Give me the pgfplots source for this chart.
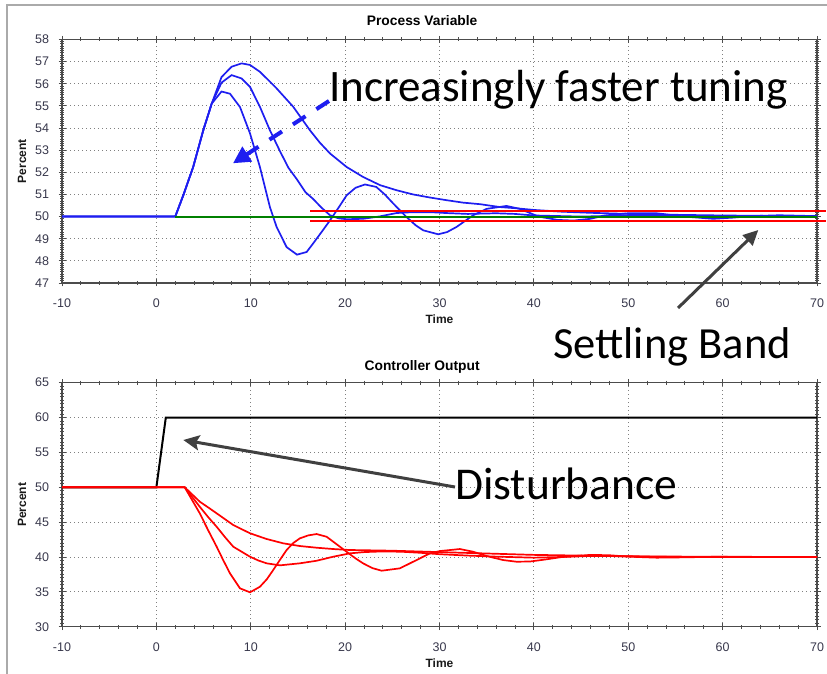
\documentclass[border=0pt]{standalone}
\usepackage{pgfplots}
\pgfplotsset{compat=1.18}
\usepackage{fontspec}
\setmainfont{Liberation Sans}
\newfontfamily\calibri{Carlito}
\usetikzlibrary{arrows.meta}
\definecolor{labelc}{RGB}{55,55,75}
\definecolor{pvblue}{RGB}{30,30,240}
\definecolor{framec}{RGB}{170,170,170}
\definecolor{annc}{RGB}{64,64,64}
\definecolor{spgreen}{RGB}{0,128,0}

\pgfplotsset{
  pidstyle/.style={
    scale only axis, width=755bp,
    xmin=-10, xmax=70, xtick={-10,0,...,70}, minor x tick num=4,
    minor y tick num=9,
    tick align=center,
    major tick length=7bp, minor tick length=4bp,
    grid=major,
    major grid style={line width=0.9bp, dash pattern=on 1bp off 3bp, color=black!50},
    axis line style={line width=1.6bp, color=black!70},
    every tick/.style={line width=0.9bp, color=black!70},
    tick label style={font=\fontsize{12.5bp}{14bp}\selectfont, color=labelc},
    /pgf/number format/assume math mode=true,
    xticklabel style={anchor=center, yshift=-17bp},
    yticklabel style={anchor=east, xshift=-6bp},
    xlabel={Time}, ylabel={Percent},
    label style={font=\fontsize{12bp}{14bp}\selectfont\bfseries, color=black!90},
    title style={font=\fontsize{13.8bp}{15bp}\selectfont\bfseries, anchor=center},
    ylabel style={at={(axis description cs:-0.053,0.5)}, anchor=center},
    clip=false,
  }
}

\begin{document}
\begin{tikzpicture}[x=1bp,y=1bp]
\path[use as bounding box] (0,0) rectangle (827,674);
\draw[framec, line width=2bp] (6.5,0) -- (6.5,669) -- (830,669);

% ---------------- Process Variable ----------------
\begin{axis}[pidstyle, at={(62bp,391bp)}, anchor=south west, height=243.5bp,
  ymin=47, ymax=58, ytick={47,48,...,58},
  title={Process Variable}, title style={at={(0.477,1.080)}, anchor=center, yshift=-6.5bp},
  xlabel style={at={(axis description cs:0.5,-0.148)}, anchor=center}]
% slow
\addplot[pvblue, line width=1.7bp] coordinates {
(-10,50) (2,50) (2.85,50.96) (3.9,52.24) (4.97,53.9) (5.86,55.1) (6.9,56.3) (7.97,56.77)
(9.03,56.92) (9.92,56.85) (10.97,56.54) (11.9,56.15) (12.74,55.79) (14.5,54.96) (16.27,53.9)
(17.3,53.35) (18.4,52.85) (20.16,52.24) (21.9,51.79) (23.7,51.42) (25.45,51.19) (27.2,51.0)
(29,50.86) (30.75,50.74) (32.5,50.63) (34.3,50.56) (36.4,50.43) (38,50.38) (40,50.3)
(43,50.22) (46,50.17) (50,50.12) (55,50.08) (60,50.05) (65,50.03) (70,50.02)};
% middle
\addplot[pvblue, line width=1.7bp] coordinates {
(-10,50) (2,50) (2.85,50.96) (3.9,52.24) (4.97,53.9) (5.86,55.1) (6.9,56.05) (7.97,56.39)
(9.03,56.24) (9.92,55.86) (10.97,54.96) (12.03,53.9) (13.1,52.95) (14.0,52.2) (14.86,51.7)
(15.8,51.1) (16.6,50.8) (17.5,50.4) (18.4,50.06) (19.3,49.92) (20.16,49.88) (21.9,49.9)
(23.7,50.01) (25.45,50.16) (27.2,50.2) (29,50.2) (30.7,50.16) (33,50.12) (36,50.15)
(38,50.12) (40,50.05) (45,50.0) (50,50.05) (55,50.02) (60,49.98) (70,50.0)};
% fast
\addplot[pvblue, line width=1.7bp] coordinates {
(-10,50) (2,50) (2.85,50.96) (3.9,52.24) (4.97,53.9) (5.86,55.1) (6.9,55.65) (7.8,55.55)
(8.86,54.95) (9.92,53.76) (10.97,52.24) (12.03,50.43) (12.74,49.53) (13.8,48.62) (14.9,48.28)
(15.92,48.4) (16.6,48.78) (17.5,49.3) (18.4,49.83) (19.3,50.4) (20.16,50.96) (21.1,51.3)
(22.1,51.45) (23.3,51.34) (24.2,51.0) (25.1,50.59) (26.5,49.98) (27.5,49.6) (28.27,49.38)
(29.86,49.2) (30.8,49.3) (31.8,49.53) (32.7,49.8) (33.57,50.06) (35,50.35) (37.1,50.48)
(38.5,50.35) (40.5,50.0) (42.5,49.85) (44.2,49.82) (46,49.9) (47.5,50.05) (50,50.15)
(53,50.15) (56,50.0) (59,49.9) (61,49.95) (63,50.02) (66,50.06) (70,50.02)};
% setpoint
\addplot[spgreen, line width=2bp] coordinates {(2,50) (70,50)};
% settling band
\addplot[red, line width=2bp] coordinates {(16.3,50.25) (70.9,50.25)};
\addplot[red, line width=2bp] coordinates {(16.3,49.78) (70.9,49.78)};
\end{axis}

% ---------------- Controller Output ----------------
\begin{axis}[pidstyle, at={(62bp,47.3bp)}, anchor=south west, height=244bp,
  ymin=30, ymax=65, ytick={30,35,...,65},
  title={Controller Output}, title style={at={(0.477,1.0697)}, anchor=center, yshift=-7.5bp},
  xlabel style={at={(axis description cs:0.5,-0.149)}, anchor=center}]
\addplot[black, line width=2bp] coordinates {(-10,50) (0,50) (1,60) (70,60)};
% slow
\addplot[red, line width=1.7bp] coordinates {
(-10,50) (3,50) (4.6,47.93) (5.5,47.1) (6.39,46.26) (8.15,44.58) (9.92,43.4) (11.68,42.58)
(13.44,41.96) (15.2,41.57) (16.98,41.33) (18.74,41.14) (20.5,41.0) (25,40.9) (30,40.7)
(35,40.5) (40,40.3) (45,40.2) (50,40.1) (60,40.02) (70,40.0)};
% middle
\addplot[red, line width=1.7bp] coordinates {
(-10,50) (3,50) (4.6,47.2) (5.5,45.7) (6.39,44.33) (7.3,42.8) (8.15,41.47) (9.92,40.04)
(10.8,39.5) (11.68,39.09) (13.09,38.8) (15.2,39.09) (16.98,39.46) (18.74,40.04) (20.5,40.52)
(22,40.7) (24,40.8) (26,40.75) (28,40.6) (30,40.4) (33,40.2) (36,40.05) (40,39.9) (43,40.0)
(46,40.15) (50,40.1) (55,40.0) (60,40.0) (70,40.0)};
% fast
\addplot[red, line width=1.7bp] coordinates {
(-10,50) (3,50) (4.6,46.26) (5.5,43.8) (6.39,41.47) (7.1,39.5) (7.8,37.65) (8.86,35.5)
(9.92,34.93) (10.97,35.73) (11.7,36.8) (12.38,38.13) (13.1,39.6) (13.8,41.0) (14.5,42.0)
(15.2,42.67) (16.1,43.1) (16.98,43.29) (18.04,42.9) (19.45,41.47) (20.16,40.75) (21.1,39.8)
(21.9,39.09) (22.9,38.4) (23.87,38.03) (25.8,38.37) (27.57,39.56) (28.98,40.52) (30.04,40.85)
(32.16,41.14) (33.57,40.75) (34.98,40.14) (36.75,39.56) (38.17,39.32) (39.58,39.35) (41,39.6)
(43,40.0) (46,40.3) (48,40.25) (50,40.05) (53,39.9) (56,39.95) (60,40.05) (65,40.0) (70,40.0)};
\end{axis}

% ---------------- annotations ----------------
\draw[pvblue, line width=4bp, dash pattern=on 15bp off 13bp,
  -{Triangle[length=17bp,width=17bp]}] (329,573) -- (233,510.7);
\node[anchor=base west, inner sep=0pt, font=\calibri\fontsize{45bp}{48bp}\selectfont]
  at (329,572) {Increasingly faster tuning};

\draw[annc, line width=3bp, -{Triangle[length=15bp,width=14bp]}] (678,366) -- (758.3,444);
\node[anchor=base west, inner sep=0pt, font=\calibri\fontsize{44.5bp}{48bp}\selectfont]
  at (553,315.7) {Settling Band};

\draw[annc, line width=3bp, -{Stealth[length=16bp,width=15bp,inset=3bp]}] (455,187) -- (183.3,234);
\node[anchor=base west, inner sep=0pt, font=\calibri\fontsize{45.5bp}{48bp}\selectfont]
  at (455,174) {Disturbance};
\end{tikzpicture}
\end{document}
